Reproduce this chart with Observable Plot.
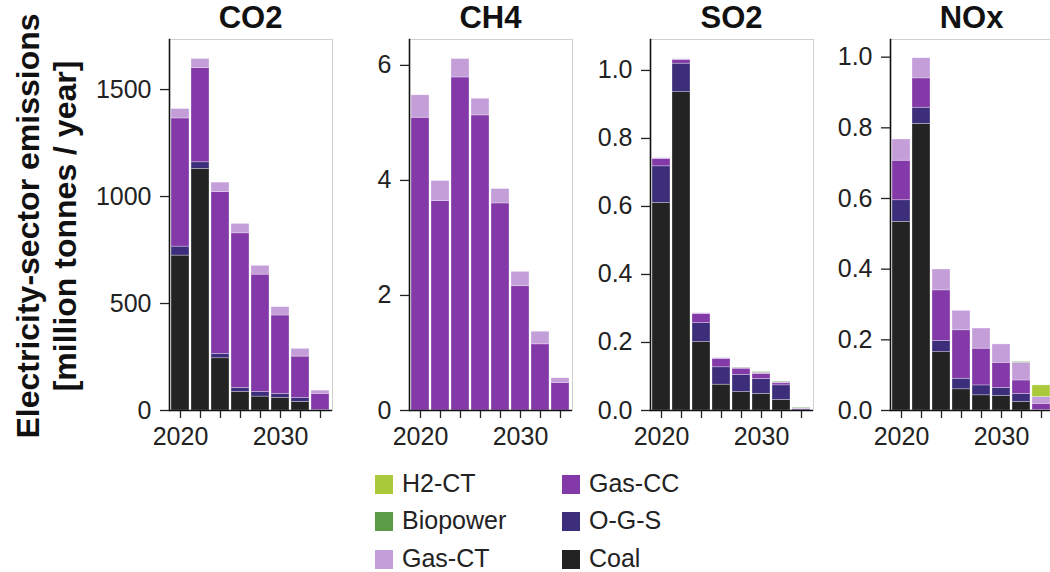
<!DOCTYPE html>
<html>
<head>
<meta charset="utf-8">
<script src="https://cdn.jsdelivr.net/npm/d3@7"></script>
<script src="https://cdn.jsdelivr.net/npm/@observablehq/plot@0.6"></script>
<style>
  html, body { margin: 0; padding: 0; background: white; }
  #wrap { position: relative; width: 1050px; height: 572px; overflow: hidden; font-family: "Liberation Sans", Arial, sans-serif; color: #222; }
  .panel { position: absolute; top: 0; }
  .title { position: absolute; top: 0; width: 200px; text-align: center; font-weight: bold; font-size: 31px; line-height: 36px; color: #111; }
  .ylab { position: absolute; width: 500px; height: 74px; line-height: 37px; font-size: 32px; font-weight: bold; text-align: center; transform: rotate(-90deg); transform-origin: center; color: #111; white-space: nowrap; }
  .leg { position: absolute; font-size: 25px; line-height: 30px; white-space: nowrap; color: #222; }
  .leg span.sw { display: inline-block; width: 18px; height: 19px; vertical-align: -2px; margin-right: 9px; }
</style>
</head>
<body>
<div id="wrap"></div>
<script>
// ---- data ----
const years = [2020, 2022, 2024, 2026, 2028, 2030, 2032, 2034];
const techs = ["Coal", "O-G-S", "Gas-CC", "Gas-CT", "Biopower", "H2-CT"];
const techColors = ["#232323", "#3c2e7a", "#8439a8", "#c49ed9", "#5b9b48", "#a9c93a"];
const pollutants = ["CO2", "CH4", "SO2", "NOx"];

// rows follow techs order: Coal, O-G-S, Gas-CC, Gas-CT, Biopower, H2-CT
const co2Values = [
  [724, 1129, 244, 86, 65, 59, 40, 0],
  [42, 31, 21, 20, 21, 19, 19, 2],
  [599, 440, 756, 722, 549, 366, 193, 76],
  [44, 43, 44, 44, 41, 39, 36, 15],
  [0, 0, 0, 0, 0, 0, 0, 0],
  [0, 0, 0, 0, 0, 0, 0, 0]
];
const ch4Values = [
  [0, 0, 0, 0, 0, 0, 0, 0],
  [0, 0, 0, 0, 0, 0, 0, 0],
  [5.09, 3.64, 5.79, 5.13, 3.60, 2.16, 1.15, 0.48],
  [0.39, 0.35, 0.32, 0.29, 0.25, 0.25, 0.22, 0.08],
  [0, 0, 0, 0, 0, 0, 0, 0],
  [0, 0, 0, 0, 0, 0, 0, 0]
];
const so2Values = [
  [0.610, 0.936, 0.201, 0.076, 0.054, 0.049, 0.031, 0],
  [0.108, 0.084, 0.056, 0.051, 0.051, 0.044, 0.043, 0.003],
  [0.022, 0.011, 0.027, 0.025, 0.018, 0.015, 0.006, 0.002],
  [0.002, 0.002, 0.002, 0.002, 0.002, 0.003, 0.003, 0.001],
  [0, 0, 0, 0, 0.001, 0.002, 0.002, 0.002],
  [0, 0, 0, 0, 0, 0, 0, 0]
];
const noxValues = [
  [0.534, 0.811, 0.165, 0.060, 0.043, 0.041, 0.024, 0],
  [0.061, 0.046, 0.032, 0.030, 0.028, 0.023, 0.023, 0.002],
  [0.112, 0.083, 0.143, 0.137, 0.104, 0.071, 0.038, 0.017],
  [0.060, 0.057, 0.059, 0.055, 0.057, 0.052, 0.050, 0.019],
  [0, 0, 0, 0, 0, 0, 0.002, 0.001],
  [0, 0, 0, 0, 0, 0, 0, 0.032]
];
const yMax = [1734, 6.45, 1.091, 1.05];
const yTicks = [[0, 500, 1000, 1500], [0, 2, 4, 6], [0, 0.2, 0.4, 0.6, 0.8, 1.0], [0, 0.2, 0.4, 0.6, 0.8, 1.0]];
const yFormats = [d3.format("d"), d3.format("d"), d3.format(".1f"), d3.format(".1f")];
const xTickLabels = [2020, 2030];
const legendColumns = [["H2-CT", "Biopower", "Gas-CT"], ["Gas-CC", "O-G-S", "Coal"]];

// ---- layout ----
const wrap = document.getElementById("wrap");
const axisX = [169, 409, 650, 890];
const innerW = 163;
const mLeft = 110, mRight = 12, mTop = 39, mBottom = 50, H = 460;
const allValues = [co2Values, ch4Values, so2Values, noxValues];

pollutants.forEach((p, i) => {
  const data = [];
  techs.forEach((t, ti) => years.forEach((y, yi) => data.push({year: y, tech: t, value: allValues[i][ti][yi]})));
  const chart = Plot.plot({
    width: mLeft + innerW + mRight,
    height: H,
    marginLeft: mLeft, marginRight: mRight, marginTop: mTop, marginBottom: mBottom,
    style: {fontFamily: "'Liberation Sans', Arial, sans-serif", fontSize: "25px", color: "#222", background: "transparent", maxWidth: "none", overflow: "visible"},
    x: {type: "band", domain: years, paddingInner: 0.08, paddingOuter: 0.03, axis: null},
    y: {domain: [0, yMax[i]], axis: null},
    color: {domain: techs, range: techColors},
    marks: [
      Plot.frame({stroke: "#d0d0d0", strokeWidth: 1}),
      Plot.barY(data, {x: "year", y: "value", fill: "tech", order: techs, stroke: "white", strokeWidth: 0.6, strokeOpacity: 0.5}),
      Plot.axisY({ticks: yTicks[i], tickFormat: yFormats[i], tickSize: 9, tickPadding: 9, stroke: "#222", strokeWidth: 1.3, fontSize: 25, label: null}),
      Plot.axisX({ticks: years, tickFormat: d => xTickLabels.includes(d) ? String(d) : "", tickSize: 8, tickPadding: 9, stroke: "#222", strokeWidth: 1.3, fontSize: 25, label: null}),
      Plot.ruleY([0], {stroke: "#111", strokeWidth: 1.6}),
      Plot.frame({anchor: "left", stroke: "#111", strokeWidth: 1.6})
    ]
  });
  const div = document.createElement("div");
  div.className = "panel";
  div.style.left = (axisX[i] - mLeft) + "px";
  div.appendChild(chart);
  wrap.appendChild(div);

  const title = document.createElement("div");
  title.className = "title";
  title.textContent = p;
  title.style.left = (axisX[i] + innerW / 2 - 100) + "px";
  wrap.appendChild(title);
});

// y label
const ylab = document.createElement("div");
ylab.className = "ylab";
ylab.style.left = (47 - 250) + "px";
ylab.style.top = (226 - 37) + "px";
ylab.innerHTML = "Electricity-sector emissions<br>[million tonnes / year]";
wrap.appendChild(ylab);

// legend
const legX = [375, 562];
const legY = [468, 505, 543];
legendColumns.forEach((col, ci) => col.forEach((name, ri) => {
  const d = document.createElement("div");
  d.className = "leg";
  d.style.left = legX[ci] + "px";
  d.style.top = legY[ri] + "px";
  const sw = document.createElement("span");
  sw.className = "sw";
  sw.style.background = techColors[techs.indexOf(name)];
  d.appendChild(sw);
  d.appendChild(document.createTextNode(name));
  wrap.appendChild(d);
}));
</script>
</body>
</html>
